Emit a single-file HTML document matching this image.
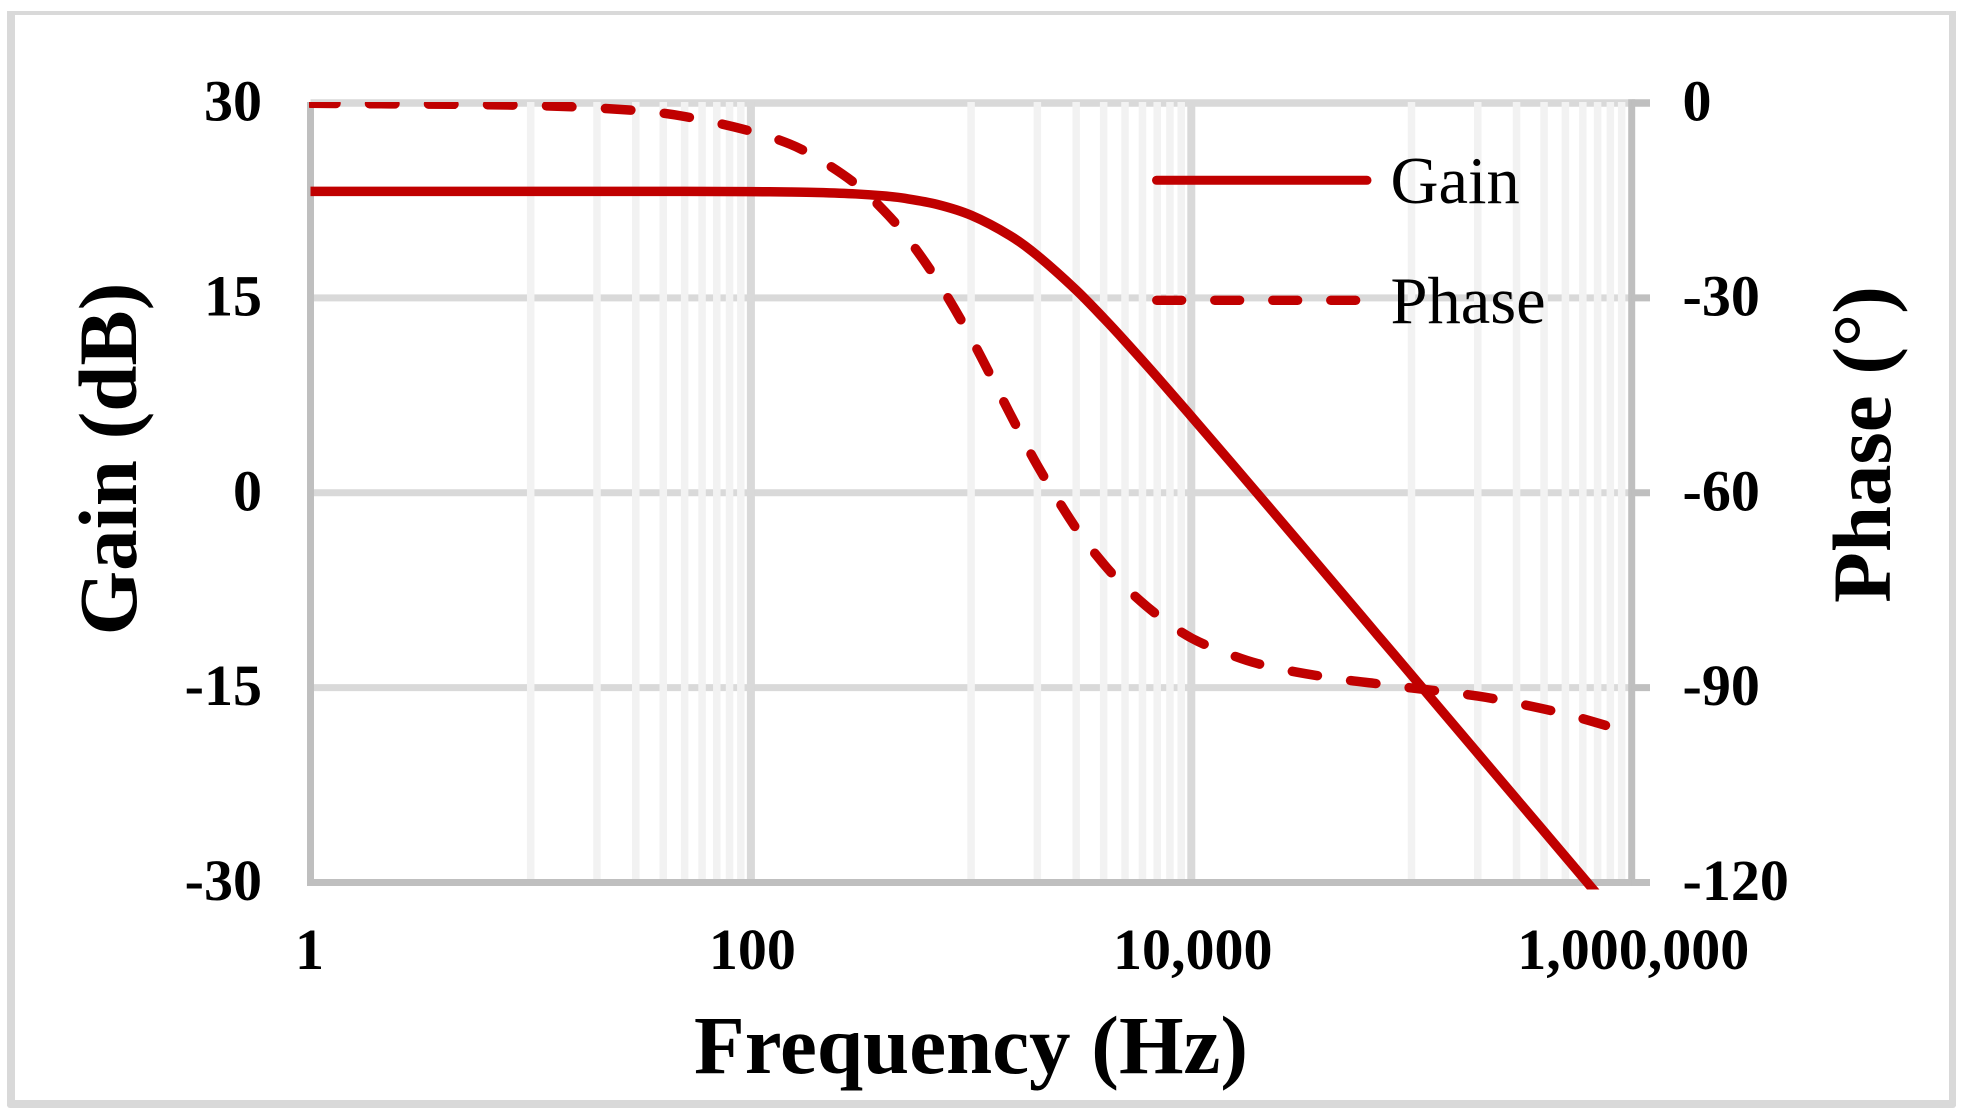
<!DOCTYPE html>
<html lang="en">
<head>
<meta charset="utf-8">
<title>Gain and Phase vs Frequency</title>
<style>
html,body{margin:0;padding:0;background:#fff;width:1967px;height:1118px;overflow:hidden}
svg{display:block}
text{font-family:"Liberation Serif","Times New Roman",serif;fill:#000}
</style>
</head>
<body>
<svg id="chart" xmlns="http://www.w3.org/2000/svg" width="1967" height="1118" viewBox="0 0 1967 1118">
  <defs>
    <clipPath id="plot-clip"><rect x="309" y="102" width="1340" height="787.5"></rect></clipPath>
  </defs>
  <g fill="#d9d9d9">
    <rect x="7" y="11" width="1949" height="4"></rect>
    <rect x="7" y="11" width="8" height="1095"></rect>
    <rect x="1949" y="11" width="7" height="1095"></rect>
    <rect x="7" y="1100" width="1949" height="8" rx="3"></rect>
  </g>
  <g id="grid"></g>
  <g id="axes"></g>
  <g id="series" clip-path="url(#plot-clip)"></g>
  <g id="labels" font-weight="bold" font-size="58"></g>
  <text x="971" y="1073" font-size="83" font-weight="bold" text-anchor="middle">Frequency (Hz)</text>
  <text transform="translate(136 459) rotate(-90)" font-size="83" font-weight="bold" text-anchor="middle">Gain (dB)</text>
  <text transform="translate(1890 444.5) rotate(-90)" font-size="83" font-weight="bold" text-anchor="middle">Phase (°)</text>
  <g>
    <g>
      <line x1="1156.5" y1="180.3" x2="1367" y2="180.3" stroke="#c00000" stroke-width="9" stroke-linecap="round"></line>
      <text x="1390.5" y="203" font-size="66.5">Gain</text>
    </g>
    <g>
      <line x1="1156.7" y1="300.3" x2="1356.5" y2="300.3" stroke="#c00000" stroke-width="9.3" stroke-linecap="round" stroke-dasharray="25 33"></line>
      <text x="1390.5" y="323" font-size="66.5">Phase</text>
    </g>
  </g>
</svg>
<script>
const frequencies = [1,10,30,50,100,150,200,300,400,500,700,1000,1500,2000,3000,4000,5000,7000,10000,15000,20000,30000,50000,70000,100000,200000,300000,500000,700000];
const gainDb = [23.2,23.2,23.2,23.2,23.18,23.15,23.11,23.0,22.85,22.66,22.2,21.36,19.8,18.26,15.6,13.44,11.67,8.9,5.88,2.41,-0.07,-3.58,-8.01,-10.94,-14.03,-20.06,-23.58,-28.01,-30.94];
const phaseFrequencies = [1,10,30,50,100,150,200,300,400,500,700,1000,1500,2000,3000,4000,5000,7000,10000,15000,20000,30000,50000,70000,100000,200000,300000,500000,760000];
const phaseDeg = [-0.04,-0.38,-1.15,-2.08,-4.34,-6.31,-8.47,-12.5,-16.5,-20.24,-27.25,-36.2,-47.8,-55.8,-65.5,-70.97,-74.5,-78.8,-82.36,-84.9,-86.3,-87.6,-88.8,-89.4,-90.05,-91.3,-92.4,-94.06,-95.8];
const xTickValues = [1,100,10000,1000000];
const xTickLabels = ['1','100','10,000','1,000,000'];
const minorGridFreqs = [10,20,30,40,50,60,70,80,90,1000,2000,3000,4000,5000,6000,7000,8000,9000,100000,200000,300000,400000,500000,600000,700000,800000,900000];
const gainTicks = [30,15,0,-15,-30];
const phaseTicks = [0,-30,-60,-90,-120];

const NS = 'http://www.w3.org/2000/svg';
const plotLeft = 310.5, plotRight = 1631.7, plotTop = 103, plotBottom = 882.5;
function xScale(f){ return plotLeft + (Math.log10(f) / 6) * (plotRight - plotLeft); }
function gainScale(v){ return plotTop + (30 - v) / 60 * (plotBottom - plotTop); }
function phaseScale(v){ return plotTop + (0 - v) / 120 * (plotBottom - plotTop); }
function make(tag, attrs, parent){
  const el = document.createElementNS(NS, tag);
  for (const k in attrs) el.setAttribute(k, attrs[k]);
  parent.appendChild(el);
  return el;
}
function smoothPath(pts){
  const n = pts.length;
  const slope = pts.map(function(p, i){
    const a = pts[Math.max(i - 1, 0)], b = pts[Math.min(i + 1, n - 1)];
    return (b[1] - a[1]) / (b[0] - a[0]);
  });
  let d = 'M' + pts[0][0].toFixed(2) + ' ' + pts[0][1].toFixed(2);
  for (let i = 0; i < n - 1; i++){
    const p1 = pts[i], p2 = pts[i + 1], dx = (p2[0] - p1[0]) / 3;
    d += 'C' + (p1[0] + dx).toFixed(2) + ' ' + (p1[1] + slope[i] * dx).toFixed(2) + ' ' + (p2[0] - dx).toFixed(2) + ' ' + (p2[1] - slope[i + 1] * dx).toFixed(2) + ' ' + p2[0].toFixed(2) + ' ' + p2[1].toFixed(2);
  }
  return d;
}
const grid = document.getElementById('grid');
const axes = document.getElementById('axes');
const series = document.getElementById('series');
const labels = document.getElementById('labels');

gainTicks.forEach(function(v, i){
  if (i === gainTicks.length - 1) return;
  const el = make('line', {x1: plotLeft, x2: plotRight, y1: gainScale(v), y2: gainScale(v), stroke: '#d9d9d9', 'stroke-width': i === 0 ? 7.5 : 7}, grid);
  
  
});
minorGridFreqs.forEach(function(f){
  const el = make('line', {x1: xScale(f), x2: xScale(f), y1: 102, y2: plotBottom, stroke: '#f2f2f2', 'stroke-width': 7.5}, grid);
  
  
});
xTickValues.slice(1, -1).forEach(function(f){
  const el = make('line', {x1: xScale(f), x2: xScale(f), y1: 102, y2: plotBottom, stroke: '#d9d9d9', 'stroke-width': 8}, grid);
  
  
});

const leftAxis = make('line', {x1: plotLeft, x2: plotLeft, y1: 102, y2: 886, stroke: '#bfbfbf', 'stroke-width': 7}, axes);


const rightAxis = make('line', {x1: plotRight, x2: plotRight, y1: 99.3, y2: 886, stroke: '#bfbfbf', 'stroke-width': 7}, axes);


const bottomAxis = make('line', {x1: 307, x2: 1650, y1: plotBottom, y2: plotBottom, stroke: '#bfbfbf', 'stroke-width': 7}, axes);


phaseTicks.forEach(function(v, i){
  const el = make('line', {x1: plotRight, x2: 1650, y1: phaseScale(v), y2: phaseScale(v), stroke: '#bfbfbf', 'stroke-width': i === 0 ? 7.5 : 7}, axes);
  
  
});

const phasePts = phaseFrequencies.map(function(f, i){ return [xScale(f), phaseScale(phaseDeg[i])]; });
const phaseLine = make('path', {d: smoothPath(phasePts), fill: 'none', stroke: '#c00000', 'stroke-width': 9.5, 'stroke-linecap': 'round', 'stroke-dasharray': '25.5 33.5'}, series);


const gainPts = frequencies.map(function(f, i){ return [xScale(f), gainScale(gainDb[i])]; });
const gainLine = make('path', {d: smoothPath(gainPts), fill: 'none', stroke: '#c00000', 'stroke-width': 9.5}, series);



gainTicks.forEach(function(v){
  const el = make('text', {x: 262, y: gainScale(v) + 17.5, 'text-anchor': 'end'}, labels);
  el.textContent = String(v);
  
  
});
phaseTicks.forEach(function(v){
  const el = make('text', {x: 1682.5, y: phaseScale(v) + 17.5, 'text-anchor': 'start'}, labels);
  el.textContent = String(v);
  
  
});
xTickValues.forEach(function(f, i){
  const el = make('text', {x: xScale(f) + (i === 0 ? -1 : 1.5), y: 969, 'text-anchor': 'middle'}, labels);
  el.textContent = xTickLabels[i];
  
  
});
</script>
</body>
</html>
